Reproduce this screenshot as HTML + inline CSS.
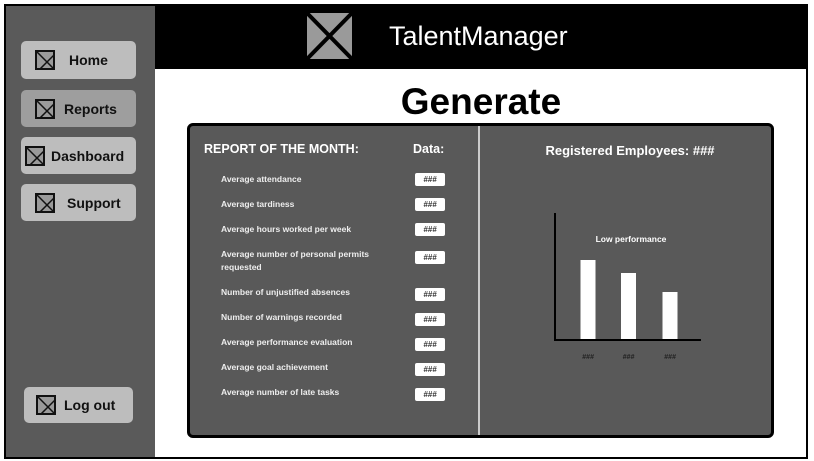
<!DOCTYPE html>
<html><head><meta charset="utf-8">
<style>
*{margin:0;padding:0;box-sizing:border-box}
body{width:814px;height:461px;background:#fff;position:relative;overflow:hidden;font-family:"Liberation Sans",sans-serif}
.abs{position:absolute}
.frame{left:4px;top:4px;width:804px;height:455px;border:2px solid #000;background:#fff}
.side{left:6px;top:6px;width:149px;height:451px;background:#5a5a5a}
.header{left:155px;top:6px;width:651px;height:63px;background:#000}
.btn{position:absolute;background:#bdbdbd;border-radius:5px;font-weight:bold;font-size:14px;color:#111;display:flex;align-items:center}
.xbox{width:20px;height:20px;border:2px solid #111;background:#9a9a9a;position:relative;overflow:hidden;flex:none}
.xbox svg{position:absolute;left:0;top:0}
.panel{left:187px;top:123px;width:587px;height:315px;background:#595959;border:3px solid #000;border-radius:6px}
.lbl{position:absolute;left:221px;color:#eee;font-size:8.5px;font-weight:bold;line-height:13px}
.val{position:absolute;left:415px;width:30px;height:13px;background:#fff;border-radius:2px;font-size:8px;font-weight:bold;font-style:italic;color:#333;text-align:center;line-height:13px}
</style></head><body>
<div class="abs frame"></div>
<div class="abs side"></div>
<div class="abs header"></div>
<div class="abs" style="left:307px;top:13px;width:45px;height:46px;background:#9a9a9a">
<svg width="45" height="46"><line x1="0" y1="0" x2="45" y2="46" stroke="#000" stroke-width="4"/><line x1="45" y1="0" x2="0" y2="46" stroke="#000" stroke-width="4"/></svg></div>
<div class="abs" style="left:389px;top:19px;color:#fff;font-size:27px;line-height:34px">TalentManager</div>

<div class="btn" style="left:21px;top:41px;width:115px;height:38px;padding-left:14px"><div class="xbox"><svg width="20" height="20"><path d="M0 0L20 20M20 0L0 20" stroke="#111" stroke-width="1.5"/></svg></div><span style="margin-left:14px">Home</span></div>
<div class="btn" style="left:21px;top:90px;width:115px;height:37px;padding-left:14px;background:#9e9e9e"><div class="xbox"><svg width="20" height="20"><path d="M0 0L20 20M20 0L0 20" stroke="#111" stroke-width="1.5"/></svg></div><span style="margin-left:9px">Reports</span></div>
<div class="btn" style="left:21px;top:137px;width:115px;height:37px;padding-left:4px"><div class="xbox"><svg width="20" height="20"><path d="M0 0L20 20M20 0L0 20" stroke="#111" stroke-width="1.5"/></svg></div><span style="margin-left:6px">Dashboard</span></div>
<div class="btn" style="left:21px;top:184px;width:115px;height:37px;padding-left:14px"><div class="xbox"><svg width="20" height="20"><path d="M0 0L20 20M20 0L0 20" stroke="#111" stroke-width="1.5"/></svg></div><span style="margin-left:12px">Support</span></div>
<div class="btn" style="left:24px;top:387px;width:109px;height:36px;padding-left:12px"><div class="xbox"><svg width="20" height="20"><path d="M0 0L20 20M20 0L0 20" stroke="#111" stroke-width="1.5"/></svg></div><span style="margin-left:8px">Log out</span></div>

<div class="abs" style="left:331px;top:80px;width:300px;text-align:center;font-size:37px;font-weight:bold;line-height:44px">Generate</div>

<div class="abs panel"></div>
<div class="abs" style="left:478px;top:126px;width:2px;height:309px;background:#ccc"></div>
<div class="abs" style="left:204px;top:142px;color:#fff;font-size:12.5px;font-weight:bold">REPORT OF THE MONTH:</div>
<div class="abs" style="left:413px;top:142px;color:#fff;font-size:12.5px;font-weight:bold">Data:</div>

<div class="lbl" style="top:173px">Average attendance</div>
<div class="val" style="top:173px">###</div>
<div class="lbl" style="top:198px">Average tardiness</div>
<div class="val" style="top:198px">###</div>
<div class="lbl" style="top:223px">Average hours worked per week</div>
<div class="val" style="top:223px">###</div>
<div class="lbl" style="top:248px">Average number of personal permits<br>requested</div>
<div class="val" style="top:251px">###</div>
<div class="lbl" style="top:286px">Number of unjustified absences</div>
<div class="val" style="top:288px">###</div>
<div class="lbl" style="top:311px">Number of warnings recorded</div>
<div class="val" style="top:313px">###</div>
<div class="lbl" style="top:336px">Average performance evaluation</div>
<div class="val" style="top:338px">###</div>
<div class="lbl" style="top:361px">Average goal achievement</div>
<div class="val" style="top:363px">###</div>
<div class="lbl" style="top:386px">Average number of late tasks</div>
<div class="val" style="top:388px">###</div>

<div class="abs" style="left:480px;top:143px;width:300px;text-align:center;color:#fff;font-size:13px;font-weight:bold">Registered Employees: ###</div>

<svg class="abs" style="left:0;top:0" width="814" height="461" id="chart">
<text x="631" y="242" fill="#fff" font-size="8.5" font-weight="bold" text-anchor="middle" font-family="Liberation Sans">Low performance</text>
</svg>
<script>
const categories=["###","###","###"];
const values=[80,67,48];
const svg=document.getElementById('chart');
const NS='http://www.w3.org/2000/svg';
const x0=555,y0=340,yTop=213,xEnd=701;
const yScale=v=>y0-v;
const xCenters=[588,628.5,670];
function xPos(i){return xCenters[i];}
function mk(t,a){const e=document.createElementNS(NS,t);for(const k in a)e.setAttribute(k,a[k]);svg.appendChild(e);return e;}
values.forEach((v,i)=>{
  const r=mk('rect',{x:xPos(i)-7.5,y:yScale(v),width:15,height:y0-yScale(v),fill:'#fff'});
  
  
  const t=mk('text',{x:xPos(i),y:359,'text-anchor':'middle','font-size':'7','font-style':'italic','font-weight':'bold',fill:'#222','font-family':'Liberation Sans'});
  t.textContent=categories[i];
  
  
});
const ya=mk('line',{x1:x0,y1:yTop,x2:x0,y2:y0+1,stroke:'#000','stroke-width':2});


const xa=mk('line',{x1:x0-1,y1:y0,x2:xEnd,y2:y0,stroke:'#000','stroke-width':2});


</script>
</body></html>
